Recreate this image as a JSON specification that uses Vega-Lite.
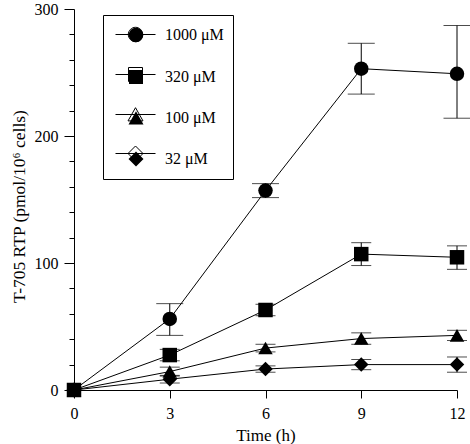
{
  "$schema": "https://vega.github.io/schema/vega-lite/v6.json",
  "autosize": {"type": "none"},
  "width": 383,
  "height": 381,
  "padding": {"left": 74, "top": 9, "right": 13, "bottom": 54},
  "background": "white",
  "config": {
    "view": {"stroke": null},
    "font": "Liberation Serif",
    "axis": {"grid": false, "domainColor": "black", "tickColor": "black", "labelColor": "black", "titleColor": "black", "labelFont": "Liberation Serif", "titleFont": "Liberation Serif", "titleFontWeight": "normal"}
  },
  "data": {
    "values": [
      {"conc": "1000 μM", "t": 0, "y": 0, "lo": null, "hi": null},
      {"conc": "1000 μM", "t": 3, "y": 56, "lo": 43, "hi": 68},
      {"conc": "1000 μM", "t": 6, "y": 157, "lo": 151.5, "hi": 162.5},
      {"conc": "1000 μM", "t": 9, "y": 253, "lo": 233, "hi": 273},
      {"conc": "1000 μM", "t": 12, "y": 249, "lo": 214, "hi": 287},
      {"conc": "320 μM", "t": 0, "y": 0, "lo": null, "hi": null},
      {"conc": "320 μM", "t": 3, "y": 27.5, "lo": 23, "hi": 32},
      {"conc": "320 μM", "t": 6, "y": 63, "lo": 58.5, "hi": 67.5},
      {"conc": "320 μM", "t": 9, "y": 107, "lo": 98, "hi": 116},
      {"conc": "320 μM", "t": 12, "y": 104.5, "lo": 95, "hi": 113.5},
      {"conc": "100 μM", "t": 0, "y": 0, "lo": null, "hi": null},
      {"conc": "100 μM", "t": 3, "y": 14.5, "lo": 11, "hi": 18},
      {"conc": "100 μM", "t": 6, "y": 33, "lo": 30, "hi": 36},
      {"conc": "100 μM", "t": 9, "y": 40.5, "lo": 36, "hi": 45},
      {"conc": "100 μM", "t": 12, "y": 43, "lo": 39, "hi": 47},
      {"conc": "32 μM", "t": 0, "y": 0, "lo": null, "hi": null},
      {"conc": "32 μM", "t": 3, "y": 8.5, "lo": 5.5, "hi": 11.5},
      {"conc": "32 μM", "t": 6, "y": 16.5, "lo": 14, "hi": 19},
      {"conc": "32 μM", "t": 9, "y": 20, "lo": 16, "hi": 24},
      {"conc": "32 μM", "t": 12, "y": 20, "lo": 14, "hi": 26}
    ]
  },
  "encoding": {
    "x": {
      "field": "t", "type": "quantitative",
      "scale": {"domain": [0, 12], "nice": false, "zero": false},
      "axis": {
        "values": [0, 3, 6, 9, 12], "tickSize": 8, "labelFontSize": 16, "labelBaseline": "alphabetic", "labelPadding": 20, "labelFlush": false,
        "title": "Time (h)", "titleFontSize": 17, "titleX": 191.5, "titleY": 50, "titleBaseline": "alphabetic", "titleAlign": "center"
      }
    }
  },
  "layer": [
    {
      "mark": {"type": "line", "color": "black", "strokeWidth": 1},
      "encoding": {
        "y": {"field": "y", "type": "quantitative", "scale": {"domain": [0, 300], "nice": false},
          "axis": {"orient": "left", "values": [20, 40, 60, 80, 120, 140, 160, 180, 220, 240, 260, 280], "tickSize": 5, "labels": false, "domain": false, "title": null}},
        "detail": {"field": "conc"},
        "order": {"field": "t"}
      }
    },
    {
      "transform": [{"filter": "datum.lo != null"}],
      "mark": {"type": "rule", "color": "black", "strokeWidth": 1},
      "encoding": {
        "y": {"field": "lo", "type": "quantitative", "scale": {"domain": [0, 300], "nice": false}, "axis": null},
        "y2": {"field": "hi"}
      }
    },
    {
      "transform": [{"filter": "datum.lo != null"}, {"fold": ["lo", "hi"], "as": ["end", "val"]}],
      "mark": {"type": "tick", "orient": "horizontal", "color": "black", "thickness": 1},
      "encoding": {
        "y": {"field": "val", "type": "quantitative", "scale": {"domain": [0, 300], "nice": false}, "axis": null},
        "size": {"condition": {"test": "datum.conc === '1000 μM'", "value": 27}, "value": 20}
      }
    },
    {
      "mark": {"type": "point", "filled": true, "color": "black", "opacity": 1, "size": 210},
      "encoding": {
        "y": {"field": "y", "type": "quantitative", "scale": {"domain": [0, 300], "nice": false},
          "axis": {"orient": "left", "values": [0, 100, 200, 300], "tickSize": 10, "labelPadding": 6, "labelFontSize": 16, "labelFlush": false,
            "title": "T-705 RTP (pmol/10⁶ cells)", "titleFontSize": 17.5, "titleX": -50, "titleY": 197, "titleBaseline": "alphabetic", "titleAlign": "center", "titleAngle": -90}},
        "shape": {"field": "conc", "type": "nominal",
          "scale": {"domain": ["32 μM", "100 μM", "1000 μM", "320 μM"], "range": ["diamond", "triangle-up", "circle", "square"]},
          "legend": null},
        "order": {"field": "t"}
      }
    },
    {
      "mark": {"type": "point", "filled": true, "color": "black", "opacity": 0},
      "encoding": {
        "y": {"field": "y", "type": "quantitative", "scale": {"domain": [0, 300], "nice": false}, "axis": null},
        "shape": {"field": "conc", "type": "nominal",
          "scale": {"domain": ["1000 μM", "320 μM", "100 μM", "32 μM"],
            "range": [
              "M-0.7,0L3.3,0M2.02,0A0.72,0.72,0,1,1,0.58,0A0.72,0.72,0,1,1,2.02,0Z",
              "M-0.7,0L3.3,0M0.6,-0.7L2,-0.7L2,0.7L0.6,0.7Z",
              "M-0.7,0L3.3,0M1.3,-0.68L2.05,0.64L0.55,0.64Z",
              "M-0.7,0L3.3,0M1.3,-0.75L2.05,0L1.3,0.75L0.55,0Z"
            ]},
          "legend": {
            "orient": "none", "legendX": 29, "legendY": 6, "title": null,
            "strokeColor": "black", "padding": 9,
            "labelFont": "Liberation Serif", "labelFontSize": 16, "labelColor": "black", "labelOffset": 31,
            "symbolSize": 400, "symbolFillColor": "black", "symbolOpacity": 1,
            "rowPadding": 20
          }
        }
      }
    },
    {
      "mark": {"type": "point", "filled": false, "color": "black", "strokeWidth": 1, "opacity": 0},
      "encoding": {
        "y": {"field": "y", "type": "quantitative", "scale": {"domain": [0, 300], "nice": false}, "axis": null},
        "shape": {"field": "conc", "type": "nominal",
          "scale": {"domain": ["1000 μM", "320 μM", "100 μM", "32 μM"],
            "range": [
              "M-0.7,0L3.3,0M2.02,0A0.72,0.72,0,1,1,0.58,0A0.72,0.72,0,1,1,2.02,0Z",
              "M-0.7,0L3.3,0M0.6,-0.7L2,-0.7L2,0.7L0.6,0.7Z",
              "M-0.7,0L3.3,0M1.3,-0.68L2.05,0.64L0.55,0.64Z",
              "M-0.7,0L3.3,0M1.3,-0.75L2.05,0L1.3,0.75L0.55,0Z"
            ]},
          "legend": {
            "orient": "none", "legendX": 29, "legendY": 6, "title": null,
            "padding": 9,
            "labelFont": "Liberation Serif", "labelFontSize": 16, "labelColor": "black", "labelOpacity": 0, "labelOffset": 31,
            "symbolSize": 400, "symbolStrokeColor": "black", "symbolStrokeWidth": 1, "symbolOpacity": 1,
            "rowPadding": 20
          }
        }
      }
    }
  ],
  "resolve": {"scale": {"shape": "independent"}, "axis": {"y": "independent"}, "legend": {"shape": "independent"}}
}
